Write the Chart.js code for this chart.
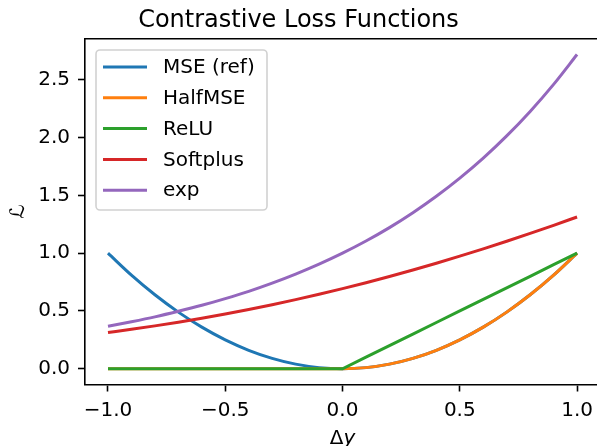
<!DOCTYPE html>
<html>
<head>
<meta charset="utf-8">
<script src="https://cdn.jsdelivr.net/npm/chart.js@4.4.1/dist/chart.umd.min.js"></script>
<style>
  html, body { margin: 0; padding: 0; background: #fff; }
</style>
</head>
<body>
<canvas id="lossChart" width="597" height="446"></canvas>
<script>
// sample positions along Δy
const deltaY = [-1.0, -0.9, -0.8, -0.7, -0.6, -0.5, -0.4, -0.3, -0.2, -0.1, 0.0,
                0.1, 0.2, 0.3, 0.4, 0.5, 0.6, 0.7, 0.8, 0.9, 1.0];

const mseRef   = [1.00, 0.81, 0.64, 0.49, 0.36, 0.25, 0.16, 0.09, 0.04, 0.01, 0.00,
                  0.01, 0.04, 0.09, 0.16, 0.25, 0.36, 0.49, 0.64, 0.81, 1.00];
const halfMse  = [0.00, 0.00, 0.00, 0.00, 0.00, 0.00, 0.00, 0.00, 0.00, 0.00, 0.00,
                  0.01, 0.04, 0.09, 0.16, 0.25, 0.36, 0.49, 0.64, 0.81, 1.00];
const relu     = [0.00, 0.00, 0.00, 0.00, 0.00, 0.00, 0.00, 0.00, 0.00, 0.00, 0.00,
                  0.10, 0.20, 0.30, 0.40, 0.50, 0.60, 0.70, 0.80, 0.90, 1.00];
const softplus = [0.313, 0.341, 0.371, 0.403, 0.437, 0.474, 0.513, 0.554, 0.598, 0.644, 0.693,
                  0.744, 0.798, 0.854, 0.913, 0.974, 1.037, 1.103, 1.171, 1.241, 1.313];
const expLoss  = [0.368, 0.407, 0.449, 0.497, 0.549, 0.607, 0.670, 0.741, 0.819, 0.905, 1.000,
                  1.105, 1.221, 1.350, 1.492, 1.649, 1.822, 2.014, 2.226, 2.460, 2.718];

const seriesNames  = ["MSE (ref)", "HalfMSE", "ReLU", "Softplus", "exp"];
const seriesValues = [mseRef, halfMse, relu, softplus, expLoss];
const seriesColors = ["#1f77b4", "#ff7f0e", "#2ca02c", "#d62728", "#9467bd"];

const xTicks = [-1.0, -0.5, 0.0, 0.5, 1.0];
const yTicks = [0.0, 0.5, 1.0, 1.5, 2.0, 2.5];

const FONT = "'DejaVu Sans', sans-serif";

function fmtTick(v) {
  return v.toFixed(1).replace("-", "\u2212");
}

// boxed legend in the upper-left of the plot, the top spine and the Δy label
const framePlugin = {
  id: "frame",
  afterDraw(chart) {
    const ctx = chart.ctx;
    const area = chart.chartArea;
    ctx.save();
    ctx.strokeStyle = "#000";
    ctx.lineWidth = 1.6;
    ctx.beginPath();
    ctx.moveTo(area.left, area.top);
    ctx.lineTo(area.right + 2, area.top);
    ctx.stroke();

    // x-axis label: upright delta, italic y
    const xs = chart.scales.x;
    const cx = xs.getPixelForValue(0);
    ctx.fillStyle = "#000";
    ctx.textBaseline = "alphabetic";
    ctx.textAlign = "left";
    ctx.font = "20px " + FONT;
    const wD = ctx.measureText("\u0394").width;
    ctx.font = "italic 20px " + FONT;
    const wY = ctx.measureText("y").width;
    const x0 = cx - (wD + wY) / 2;
    ctx.font = "20px " + FONT;
    ctx.fillText("\u0394", x0, 443.5);
    ctx.font = "italic 20px " + FONT;
    ctx.fillText("y", x0 + wD, 443.5);

    const bx = 96, by = 50, bw = 171, bh = 160;
    ctx.fillStyle = "rgba(255,255,255,0.8)";
    ctx.strokeStyle = "rgba(204,204,204,0.9)";
    ctx.lineWidth = 1.6;
    ctx.beginPath();
    ctx.roundRect(bx, by, bw, bh, 4);
    ctx.fill();
    ctx.stroke();

    ctx.font = "20px " + FONT;
    ctx.textBaseline = "middle";
    ctx.textAlign = "left";
    chart.data.datasets.forEach((ds, i) => {
      const y = 67 + i * 30.8;
      ctx.strokeStyle = ds.borderColor;
      ctx.lineWidth = 3;
      ctx.beginPath();
      ctx.moveTo(103, y);
      ctx.lineTo(147, y);
      ctx.stroke();
      ctx.fillStyle = "#000";
      ctx.fillText(ds.label, 163, y + 1);
    });
    ctx.restore();
  }
};

const datasets = seriesNames.map((name, i) => ({
  label: name,
  data: deltaY.map((x, j) => ({ x: x, y: seriesValues[i][j] })),
  borderColor: seriesColors[i],
  backgroundColor: seriesColors[i],
  borderWidth: 3,
  pointRadius: 0,
  fill: false,
  cubicInterpolationMode: name === "ReLU" ? "default" : "monotone",
  tension: 0,
  order: seriesNames.length - i
}));

new Chart(document.getElementById("lossChart"), {
  type: "line",
  data: { datasets: datasets },
  plugins: [framePlugin],
  options: {
    responsive: false,
    animation: false,
    layout: { padding: 0 },
    plugins: {
      legend: { display: false },
      tooltip: { enabled: false },
      title: {
        display: true,
        text: "Contrastive Loss Functions",
        color: "#000",
        font: { family: FONT, size: 24, weight: "normal" },
        padding: { top: 6, bottom: 4 }
      }
    },
    scales: {
      x: {
        type: "linear",
        min: -1.098,
        max: 1.085,
        afterBuildTicks: (scale) => { scale.ticks = xTicks.map(v => ({ value: v })); },
        afterFit: (scale) => {
          scale.height = 61.5;
          // plot runs right to the canvas edge
          scale.paddingLeft = 0;
          scale.paddingRight = 0;
        },
        grid: { display: true, drawOnChartArea: false, drawTicks: true, tickLength: 7, tickWidth: 1.6, tickColor: "#000" },
        border: { display: true, color: "#000", width: 1.6 },
        ticks: {
          color: "#000",
          padding: 7,
          maxRotation: 0,
          font: { family: FONT, size: 20 },
          callback: (v) => fmtTick(v)
        },
        title: { display: false }
      },
      y: {
        type: "linear",
        min: -0.136,
        max: 2.854,
        afterBuildTicks: (scale) => { scale.ticks = yTicks.map(v => ({ value: v })); },
        afterFit: (scale) => { scale.width = 85; },
        grid: { display: true, drawOnChartArea: false, drawTicks: true, tickLength: 7, tickWidth: 1.6, tickColor: "#000" },
        border: { display: true, color: "#000", width: 1.6 },
        ticks: {
          color: "#000",
          padding: 8,
          font: { family: FONT, size: 20 },
          callback: (v) => fmtTick(v)
        },
        title: {
          display: true,
          text: "\u2112",
          color: "#000",
          font: { family: FONT, size: 20, style: "italic" },
          padding: { top: 7, bottom: 0 }
        }
      }
    }
  }
});
</script>
</body>
</html>
